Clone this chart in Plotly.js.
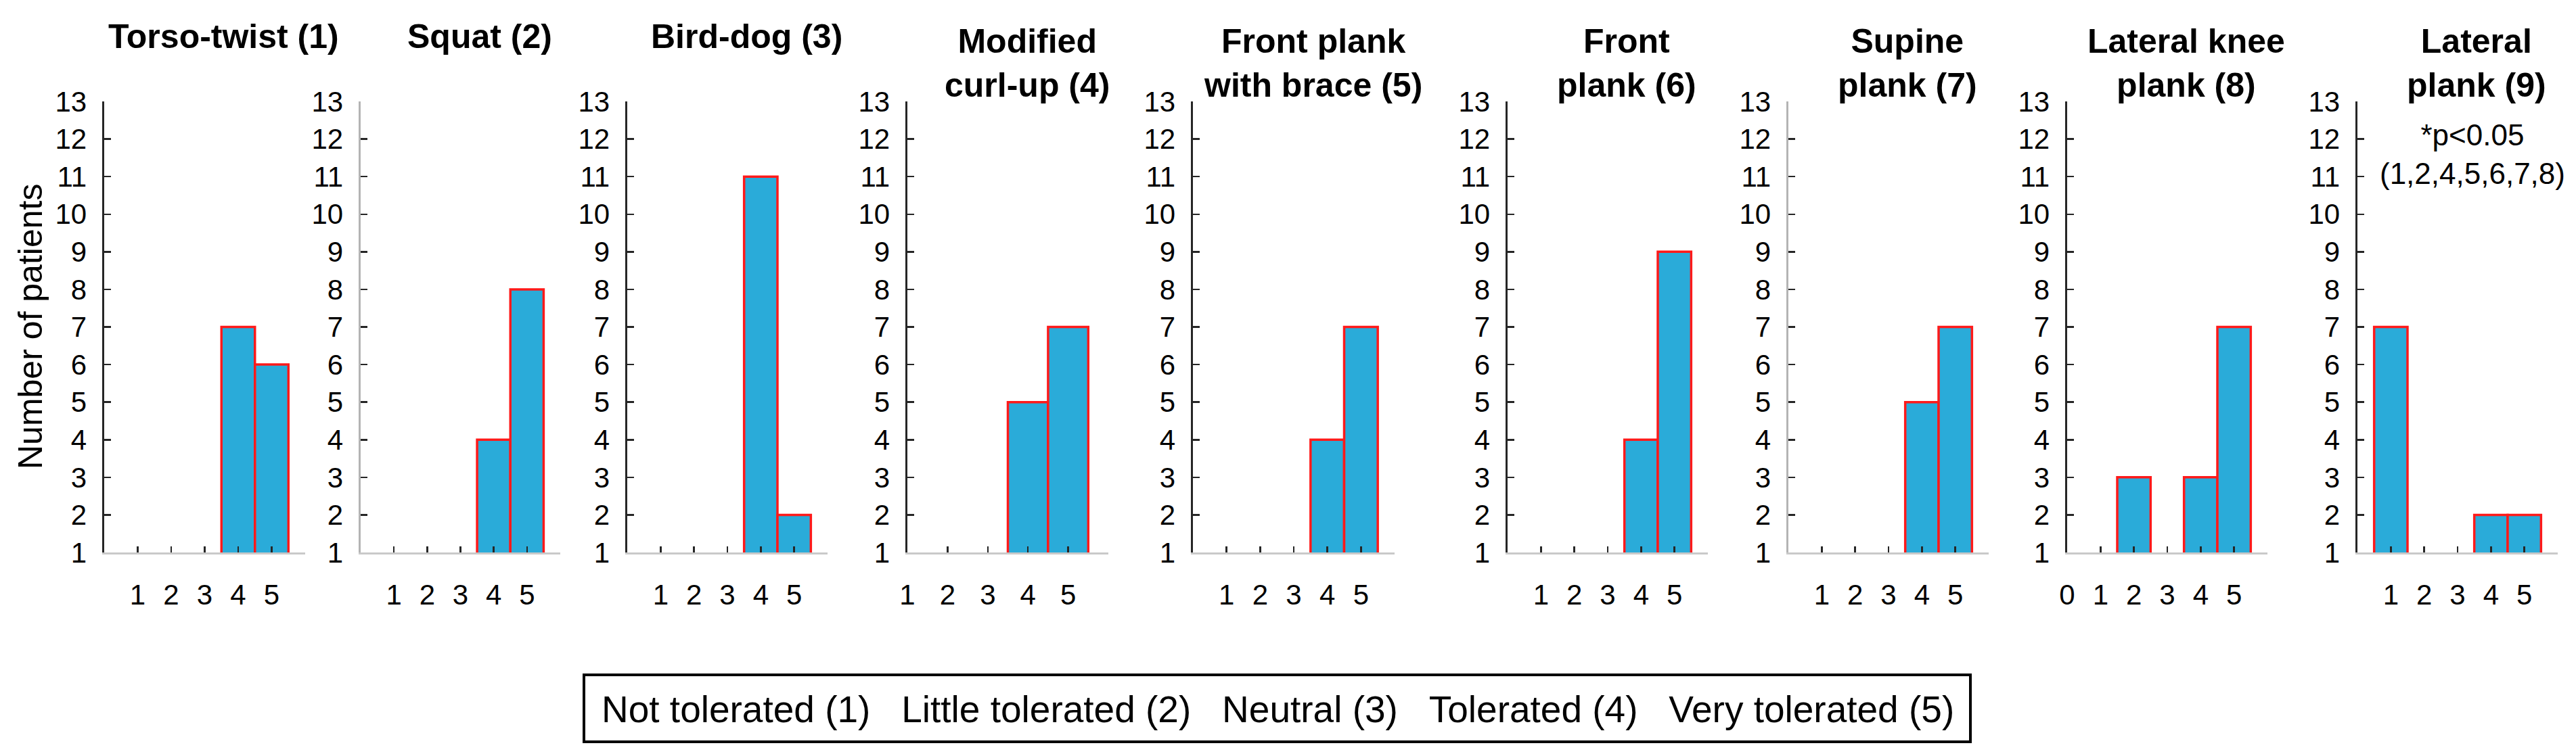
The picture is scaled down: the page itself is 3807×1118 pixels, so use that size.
<!DOCTYPE html>
<html>
<head>
<meta charset="utf-8">
<script src="https://cdn.plot.ly/plotly-3.0.1.min.js"></script>
<style>
  html, body { margin: 0; padding: 0; background: #ffffff; }
  #chart { width: 3807px; height: 1118px; }
</style>
</head>
<body>
<div id="chart"></div>
<script>
// ---------------- DATA ----------------
const categories = [1, 2, 3, 4, 5];
const exerciseTitles = [
  "Torso-twist (1)", "Squat (2)", "Bird-dog (3)",
  "Modified<br>curl-up (4)", "Front plank<br>with brace (5)", "Front<br>plank (6)",
  "Supine<br>plank (7)", "Lateral knee<br>plank (8)", "Lateral<br>plank (9)"
];
const torsoTwist       = [0, 0, 0, 7, 6];
const squat            = [0, 0, 0, 4, 8];
const birdDog          = [0, 0, 0, 11, 2];
const modifiedCurlUp   = [0, 0, 0, 5, 7];
const frontPlankBrace  = [0, 0, 0, 4, 7];
const frontPlank       = [0, 0, 0, 4, 9];
const supinePlank      = [0, 0, 0, 5, 7];
const lateralKneePlank = [0, 3, 0, 3, 7];
const lateralPlank     = [7, 0, 0, 2, 2];
const seriesValues = [torsoTwist, squat, birdDog, modifiedCurlUp, frontPlankBrace,
                      frontPlank, supinePlank, lateralKneePlank, lateralPlank];

const xTickLabelsDefault = ["1", "2", "3", "4", "5"];
const xTickLabelsPanel8  = ["0", "1", "2", "3", "4", "5"];
const yTickLabels = ["1","2","3","4","5","6","7","8","9","10","11","12","13"];
const legendLabels = ["Not tolerated (1)", "Little tolerated (2)", "Neutral (3)",
                      "Tolerated (4)", "Very tolerated (5)"];
const yAxisTitle = "Number of patients";
const significanceNote = ["*p&lt;0.05", "(1,2,4,5,6,7,8)"];

// ---------------- LAYOUT GEOMETRY (pixels) ----------------
const W = 3807, H = 1118;
const panelLeft  = [154, 533, 927, 1341, 1763, 2228, 2643, 3055, 3484];
const panelRight = [451, 828, 1223, 1638, 2061, 2524, 2939, 3351, 3780];
const plotTop = 150, plotBottom = 817;
const xRangeStart = [0, 0, 0, 1, 0, 0, 0, 0, 0];
const grayYAxis = [false, true, false, false, false, false, true, false, false];

const FONT = "Liberation Sans, Arial, Helvetica, sans-serif";
const BAR_FILL = "#2aabd9";
const BAR_EDGE = "#ff1a1a";

const px = v => v / W;
const py = v => 1 - v / H;

const traces = [];
const layout = {
  width: W, height: H,
  margin: {l: 0, r: 0, t: 0, b: 0},
  paper_bgcolor: "#ffffff",
  plot_bgcolor: "#ffffff",
  showlegend: false,
  bargap: 0,
  font: {family: FONT, color: "#000000"},
  annotations: [],
  shapes: []
};

for (let i = 0; i < 9; i++) {
  const n = i + 1;
  const xa = n === 1 ? "xaxis" : "xaxis" + n;
  const ya = n === 1 ? "yaxis" : "yaxis" + n;
  const xr = n === 1 ? "x" : "x" + n;
  const yr = n === 1 ? "y" : "y" + n;

  traces.push({
    type: "bar",
    x: categories,
    y: seriesValues[i],
    width: 1,
    xaxis: xr, yaxis: yr,
    marker: {color: BAR_FILL, line: {color: BAR_EDGE, width: 3.5}},
    hoverinfo: "skip"
  });

  const labels = (n === 8) ? xTickLabelsPanel8 : xTickLabelsDefault;
  const tickvals = labels.map(Number);

  layout[xa] = {
    domain: [px(panelLeft[i]), px(panelRight[i])],
    anchor: yr,
    range: [xRangeStart[i], 6],
    tickmode: "array",
    tickvals: tickvals,
    ticktext: labels,
    ticks: "inside",
    ticklen: 9,
    tickwidth: 2.5,
    tickcolor: "#262626",
    showline: true,
    linecolor: "#c9c9c9",
    linewidth: 3,
    showgrid: false,
    zeroline: false,
    ticklabelstandoff: 24,
    tickfont: {family: FONT, size: 42, color: "#000000"},
    fixedrange: true
  };
  layout[ya] = {
    domain: [py(plotBottom), py(plotTop)],
    anchor: xr,
    range: [1, 13],
    tickmode: "array",
    tickvals: yTickLabels.map(Number),
    ticktext: yTickLabels,
    ticks: "inside",
    ticklen: 10,
    tickwidth: 2.5,
    tickcolor: "#262626",
    showline: true,
    linecolor: grayYAxis[i] ? "#b4b4b4" : "#262626",
    linewidth: 3.5,
    showgrid: false,
    zeroline: false,
    ticklabelstandoff: 14,
    tickfont: {family: FONT, size: 42, color: "#000000"},
    fixedrange: true
  };

  const twoLine = exerciseTitles[i].indexOf("<br>") >= 0;
  layout.annotations.push({
    xref: "paper", yref: "paper",
    x: px((panelLeft[i] + panelRight[i]) / 2 + 28),
    y: py(twoLine ? 93 : 54),
    xanchor: "center", yanchor: "middle",
    text: "<b>" + exerciseTitles[i].replace("<br>", "</b><br><b>") + "</b>",
    showarrow: false,
    font: {family: FONT, size: 50, color: "#000000"}
  });
}

// significance note in panel 9
layout.annotations.push({
  xref: "paper", yref: "paper",
  x: px(3654), y: py(228),
  xanchor: "center", yanchor: "middle",
  text: significanceNote.join("<br>"),
  showarrow: false,
  font: {family: FONT, size: 44, color: "#000000"}
});

// y-axis title
layout.annotations.push({
  xref: "paper", yref: "paper",
  x: px(45), y: py(483),
  xanchor: "center", yanchor: "middle",
  text: yAxisTitle,
  textangle: -90,
  showarrow: false,
  font: {family: FONT, size: 50, color: "#000000"}
});

// legend box (text key)
layout.shapes.push({
  type: "rect", xref: "paper", yref: "paper",
  x0: px(863), x1: px(2912), y0: py(1097), y1: py(998),
  line: {color: "#000000", width: 4},
  fillcolor: "rgba(255,255,255,0)"
});
const gap = "\u00A0\u00A0\u00A0";
layout.annotations.push({
  xref: "paper", yref: "paper",
  x: px(1888), y: py(1049),
  xanchor: "center", yanchor: "middle",
  text: legendLabels.join(gap),
  showarrow: false,
  font: {family: FONT, size: 55, color: "#000000"}
});

Plotly.newPlot("chart", traces, layout, {staticPlot: true, displayModeBar: false});
</script>
</body>
</html>
